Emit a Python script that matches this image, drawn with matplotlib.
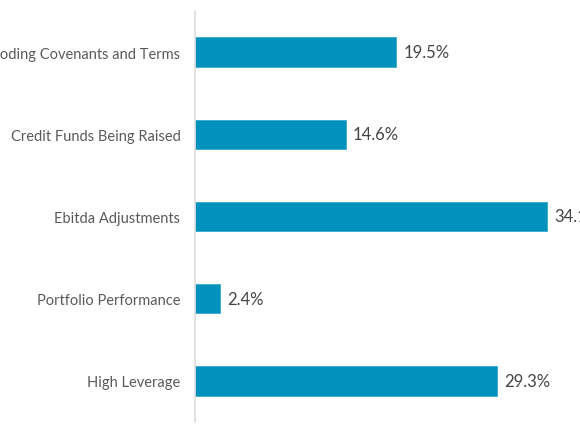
import matplotlib
matplotlib.use("Agg")
import matplotlib.pyplot as plt

categories = ["Eroding Covenants and Terms", "Credit Funds Being Raised",
              "Ebitda Adjustments", "Portfolio Performance", "High Leverage"]
values = [19.5, 14.6, 34.1, 2.4, 29.3]
value_labels = ["19.5%", "14.6%", "34.1%", "2.4%", "29.3%"]

plt.rcParams['font.family'] = ['Lato', 'DejaVu Sans']

fig = plt.figure(figsize=(5.8, 4.35), dpi=100)
ax = fig.add_axes([195/580, 12/435, 1 - 195/580, 411/435])

y = list(range(len(categories)))
ax.barh(y, values, height=0.36, color='#0091bd', edgecolor='#3aa9cf', linewidth=0.6)
ax.set_ylim(len(categories) - 0.5, -0.5)
ax.set_xlim(0, 385/10.31)

ax.set_yticks(y)
ax.set_yticklabels(categories, fontsize=10.5, color='#5a5a5a')
ax.tick_params(axis='y', length=0, pad=10.5)
ax.set_xticks([])

for s in ['top', 'right', 'bottom']:
    ax.spines[s].set_visible(False)
ax.spines['left'].set_color('#dddddd')
ax.spines['left'].set_linewidth(1.2)

for yi, v, lab in zip(y, values, value_labels):
    ax.text(v + 0.7, yi, lab, va='center', ha='left', fontsize=12,
            color='#444444', clip_on=False)

fig.savefig("out.png", dpi=100)
